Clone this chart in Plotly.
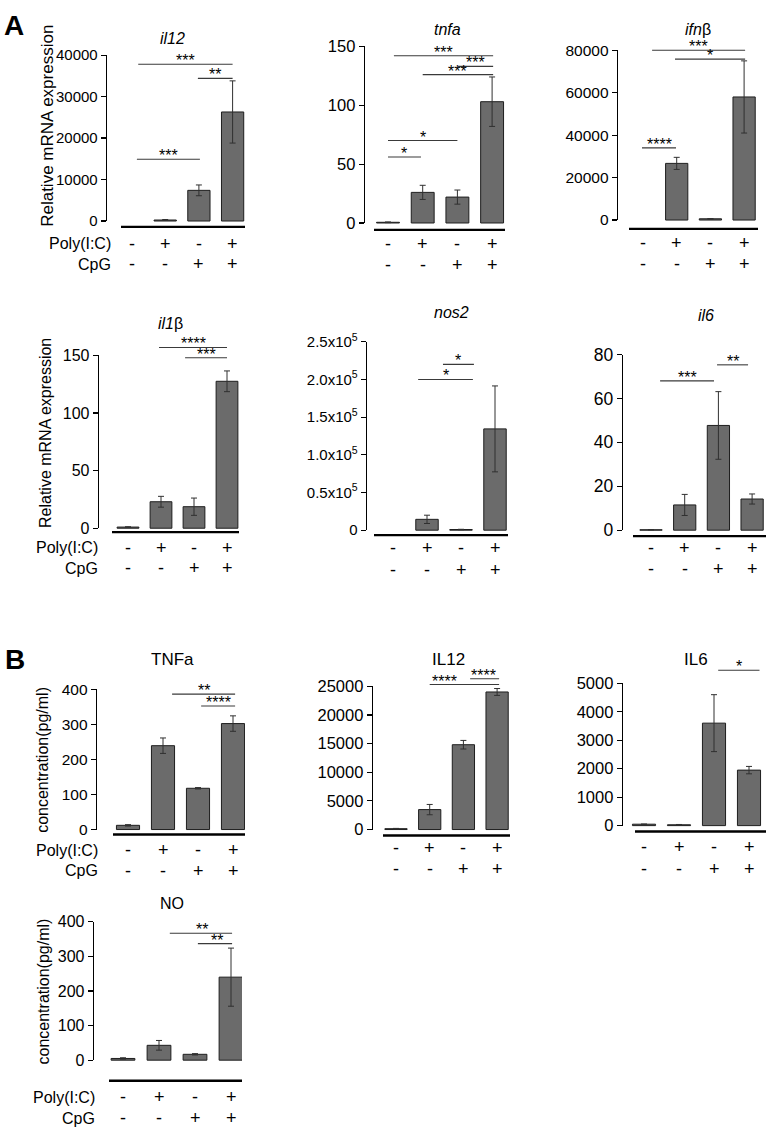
import plotly.graph_objects as go

W, H = 766, 1133
FONT = "Arial, Liberation Sans, DejaVu Sans, sans-serif"
NARROW = "Liberation Sans Narrow, Arial Narrow, Liberation Sans, Arial, sans-serif"

# ---------------- data ----------------
groups = [0, 1, 2, 3]
poly_ic = ["-", "+", "-", "+"]
cpg = ["-", "-", "+", "+"]

il12_mean = [None, 250, 7400, 26300]
il12_err = [0, 120, 1300, 7500]
tnfa_mean = [0.6, 26, 22, 103]
tnfa_err = [0.3, 6, 6, 21]
ifnb_mean = [None, 26700, 600, 58000]
ifnb_err = [0, 2850, 0, 17000]
il1b_mean = [1, 23, 18.7, 127.6]
il1b_err = [0.3, 4.7, 7.5, 9]
nos2_mean = [None, 14400, 900, 134400]
nos2_err = [0, 5500, 300, 57000]
il6_mean = [0.2, 11.5, 47.7, 14.2]
il6_err = [0, 4.8, 15.4, 2.3]
TNFa_mean = [12, 239, 117.6, 302]
TNFa_err = [2, 22, 2, 22]
IL12_mean = [150, 3480, 14800, 24000]
IL12_err = [50, 900, 750, 600]
IL6_mean = [50, 30, 3600, 1950]
IL6_err = [0, 10, 1000, 130]
NO_mean = [5, 43, 17, 240]
NO_err = [2, 14, 2, 84]

# significance brackets: (x_start, x_end, height, label, label_x or None)
il12_sig = [(0.2, 3.0, 37800, "***", None), (1.97, 3.0, 34400, "**", None),
            (0.16, 2.03, 14900, "***", None)]
tnfa_sig = [(0.17, 3.03, 142, "***", None), (2.02, 3.03, 133, "***", None),
            (1.0, 3.03, 126, "***", None), (0.0, 2.0, 70, "*", None),
            (0.0, 0.95, 56, "*", None)]
ifnb_sig = [(0.27, 3.03, 80000, "***", None), (0.95, 3.03, 75800, "*", None),
            (-0.03, 0.98, 34000, "****", None)]
il1b_sig = [(0.94, 3.0, 157, "****", None), (1.73, 3.0, 148, "***", None)]
nos2_sig = [(1.47, 2.38, 220000, "*", None), (0.74, 2.35, 200000, "*", None)]
il6_sig = [(0.27, 1.87, 68, "***", None), (1.96, 2.88, 75.3, "**", None)]
TNFa_sig = [(1.26, 3.06, 386, "**", None), (2.09, 3.06, 352, "****", None)]
IL12_sig = [(1.0, 3.06, 25300, "****", 1.45), (2.2, 3.06, 26300, "****", 2.6)]
IL6_sig = [(2.12, 3.3, 5460, "*", 2.7)]
NO_sig = [(1.3, 3.03, 367, "**", 2.2), (2.08, 3.03, 337, "**", 2.6)]

il12_ticks = [0, 10000, 20000, 30000, 40000]
tnfa_ticks = [0, 50, 100, 150]
ifnb_ticks = [0, 20000, 40000, 60000, 80000]
il1b_ticks = [0, 50, 100, 150]
nos2_ticks = [0, 50000, 100000, 150000, 200000, 250000]
nos2_ticktext = ["0", "0.5x10<sup>5</sup>", "1.0x10<sup>5</sup>", "1.5x10<sup>5</sup>",
                 "2.0x10<sup>5</sup>", "2.5x10<sup>5</sup>"]
il6_ticks = [0, 20, 40, 60, 80]
TNFa_ticks = [0, 100, 200, 300, 400]
IL12_ticks = [0, 5000, 10000, 15000, 20000, 25000]
IL6_ticks = [0, 1000, 2000, 3000, 4000, 5000]
NO_ticks = [0, 100, 200, 300, 400]

# ---------------- panel layout (pixels) ----------------
panels = [
    dict(title="<i>il12</i>", tfont=FONT, mean=il12_mean, err=il12_err, sig=il12_sig, ticks=il12_ticks,
         fs=15, geo=dict(ax=107, right=245, c0=131.5, dc=33.7, zero=214, top=45, base=220, bstart=121,
                         tx=172, ty=28, r1=237, r2=258), rowlab=113,
         ylab=("Relative mRNA expression", 48, 117, 17)),
    dict(title="<i>tnfa</i>", tfont=FONT, mean=tnfa_mean, err=tnfa_err, sig=tnfa_sig, ticks=tnfa_ticks,
         fs=16.5, geo=dict(ax=365, right=505, c0=388, dc=34.7, zero=216, top=36, base=223, bstart=374,
                           tx=447, ty=19, r1=237, r2=259)),
    dict(title="<i>ifn</i>β", tfont=FONT, mean=ifnb_mean, err=ifnb_err, sig=ifnb_sig, ticks=ifnb_ticks,
         fs=15.5, geo=dict(ax=618, right=758, c0=643, dc=33.7, zero=213, top=40, base=222, bstart=629,
                           tx=698, ty=19, r1=236, r2=258)),
    dict(title="<i>il1</i>β", tfont=FONT, mean=il1b_mean, err=il1b_err, sig=il1b_sig, ticks=il1b_ticks,
         fs=16, geo=dict(ax=99, right=239, c0=128, dc=33, zero=527, top=351, base=531, bstart=112,
                         tx=170, ty=318, r1=547, r2=568), rowlab=100,
         ylab=("Relative mRNA expression", 45, 430, 16)),
    dict(title="<i>nos2</i>", tfont=FONT, mean=nos2_mean, err=nos2_err, sig=nos2_sig, ticks=nos2_ticks,
         ticktext=nos2_ticktext, fs=15,
         geo=dict(ax=367, right=508, c0=393, dc=34, zero=529, top=337, base=534, bstart=374,
                  tx=452, ty=307, r1=547, r2=570)),
    dict(title="<i>il6</i>", tfont=FONT, mean=il6_mean, err=il6_err, sig=il6_sig, ticks=il6_ticks,
         fs=17.5, geo=dict(ax=623, right=766, c0=651, dc=33.7, zero=529, top=350, base=535, bstart=633,
                           tx=706, ty=310, r1=547, r2=569)),
    dict(title="TNFa", tfont=NARROW, mean=TNFa_mean, err=TNFa_err, sig=TNFa_sig, ticks=TNFa_ticks,
         fs=15.5, geo=dict(ax=97, right=245, c0=128, dc=35, zero=834, top=691, base=839, bstart=113,
                           tx=172, ty=661, r1=855, r2=876), rowlab=100,
         ylab=("concentration(pg/ml)", 43, 763, 16)),
    dict(title="IL12", tfont=NARROW, mean=IL12_mean, err=IL12_err, sig=IL12_sig, ticks=IL12_ticks,
         fs=16.5, geo=dict(ax=373, right=510, c0=396, dc=33.7, zero=834, top=688, base=840, bstart=383,
                           tx=448, ty=661, r1=853, r2=874)),
    dict(title="IL6", tfont=NARROW, mean=IL6_mean, err=IL6_err, sig=IL6_sig, ticks=IL6_ticks,
         fs=16.5, geo=dict(ax=623, right=766, c0=644, dc=35, zero=830, top=685, base=836, bstart=635,
                           tx=696, ty=661, r1=852, r2=874)),
    dict(title="NO", tfont=FONT, mean=NO_mean, err=NO_err, sig=NO_sig, ticks=NO_ticks,
         fs=16, geo=dict(ax=94, right=242, c0=123, dc=36, zero=1069, top=928, base=1090, bstart=109,
                         tx=172, ty=909, r1=1107, r2=1128), rowlab=97,
         ylab=("concentration(pg/ml)", 43, 999, 16)),
]

fig = go.Figure()
layout = dict(width=W, height=H, margin=dict(l=0, r=0, t=0, b=0), showlegend=False,
              plot_bgcolor="rgba(0,0,0,0)", paper_bgcolor="white",
              font=dict(family=FONT, color="black"), bargap=0)
shapes, annotations = [], []


def px_x(p):
    return p / W


def px_y(p):
    return 1 - p / H


n_panels = len(panels)
for i, p in enumerate(panels):
    n = i + 1
    g = p["geo"]
    xname = "x" if n == 1 else f"x{n}"
    yname = "y" if n == 1 else f"y{n}"
    yvis = f"y{n + n_panels}"
    s = (g["zero"] - g["top"]) / p["ticks"][-1]  # px per unit
    sig_px = [g["zero"] - sg[2] * s for sg in p["sig"]]
    top_px = min([g["top"]] + sig_px) - 24
    bottom_px = g["base"] + 5
    ymin = -(bottom_px - g["zero"]) / s
    ymax = (g["zero"] - top_px) / s
    xmin = (g["ax"] - g["c0"]) / g["dc"]
    xmax = (g["right"] - g["c0"]) / g["dc"]

    # visible axis (0 .. top tick), drawn first so the bars sit on top
    fig.add_trace(go.Scatter(x=[None], y=[None], xaxis=xname, yaxis=yvis, hoverinfo="skip"))
    fig.add_trace(go.Bar(
        x=groups, y=p["mean"], width=0.66, xaxis=xname, yaxis=yname,
        marker=dict(color="#6b6b6b", line=dict(color="#1e1e1e", width=1)),
        error_y=dict(type="data", array=p["err"], thickness=1, width=3, color="#303030"),
        hoverinfo="skip"))

    layout["xaxis" if n == 1 else f"xaxis{n}"] = dict(
        domain=[px_x(g["ax"]), px_x(g["right"])], range=[xmin, xmax], anchor=yname,
        showticklabels=False, showgrid=False, zeroline=False, showline=False, ticks="")
    layout["yaxis" if n == 1 else f"yaxis{n}"] = dict(
        domain=[px_y(bottom_px), px_y(top_px)], range=[ymin, ymax], anchor=xname,
        showticklabels=False, showgrid=False, zeroline=False, showline=False, ticks="")
    layout[f"yaxis{n + n_panels}"] = dict(
        domain=[px_y(g["zero"]), px_y(g["top"])], range=[0, p["ticks"][-1]], anchor=xname,
        tickvals=p["ticks"], ticktext=p.get("ticktext", [str(t) for t in p["ticks"]]),
        ticks="outside", ticklen=5, tickwidth=1.2, tickcolor="black",
        showline=True, linecolor="black", linewidth=1.3, showgrid=False, zeroline=False,
        tickfont=dict(size=p["fs"], family=FONT, color="black"))

    # baseline
    base_val = -(g["base"] - g["zero"]) / s
    shapes.append(dict(type="line", xref=xname, yref=yname, x0=(g["bstart"] - g["c0"]) / g["dc"],
                       x1=xmax, y0=base_val, y1=base_val, line=dict(color="black", width=2.4)))
    # significance brackets
    for (x0, x1, yv, lab, lx) in p["sig"]:
        shapes.append(dict(type="line", xref=xname, yref=yname, x0=x0, x1=x1, y0=yv, y1=yv,
                           line=dict(color="#3a3a3a", width=1.1)))
        annotations.append(dict(xref=xname, yref=yname, x=(x0 + x1) / 2 if lx is None else lx, y=yv,
                                text=lab, showarrow=False, yanchor="bottom", yshift=-7,
                                font=dict(size=16, family=FONT, color="black")))
    # treatment rows
    for gi, (a, b) in enumerate(zip(poly_ic, cpg)):
        for txt, ry in ((a, g["r1"]), (b, g["r2"])):
            annotations.append(dict(xref=xname, yref="paper", x=groups[gi], y=px_y(ry), text=txt,
                                    showarrow=False, yanchor="middle", xanchor="center",
                                    font=dict(size=18, family=FONT, color="black")))
    if "rowlab" in p:
        for txt, ry in (("Poly(I:C)", g["r1"]), ("CpG", g["r2"])):
            annotations.append(dict(xref="paper", yref="paper", x=px_x(p["rowlab"]), y=px_y(ry),
                                    text=txt, showarrow=False, xanchor="right", yanchor="middle",
                                    font=dict(size=16, family=FONT, color="black")))
    if "ylab" in p:
        t, lx, ly, fsz = p["ylab"]
        annotations.append(dict(xref="paper", yref="paper", x=px_x(lx), y=px_y(ly), text=t,
                                textangle=-90, showarrow=False, xanchor="center", yanchor="middle",
                                font=dict(size=fsz, family=FONT, color="black")))
    # title
    annotations.append(dict(xref="paper", yref="paper", x=px_x(g["tx"]), y=px_y(g["ty"]), text=p["title"],
                            showarrow=False, xanchor="center", yanchor="middle",
                            font=dict(size=17 if p["tfont"] == NARROW else 16, family=p["tfont"],
                                      color="black")))

for letter, lx, ly in (("A", 14, 15), ("B", 15, 661)):
    annotations.append(dict(xref="paper", yref="paper", x=px_x(lx), y=px_y(ly), text=f"<b>{letter}</b>",
                            showarrow=False, xanchor="center", yanchor="middle",
                            font=dict(size=28, family=FONT, color="black")))

layout["shapes"] = shapes
layout["annotations"] = annotations
fig.update_layout(**layout)
fig.write_html("out.html", config={"displayModeBar": False, "staticPlot": True},
               post_script="document.body.style.margin='0px';document.body.style.overflow='hidden';")
